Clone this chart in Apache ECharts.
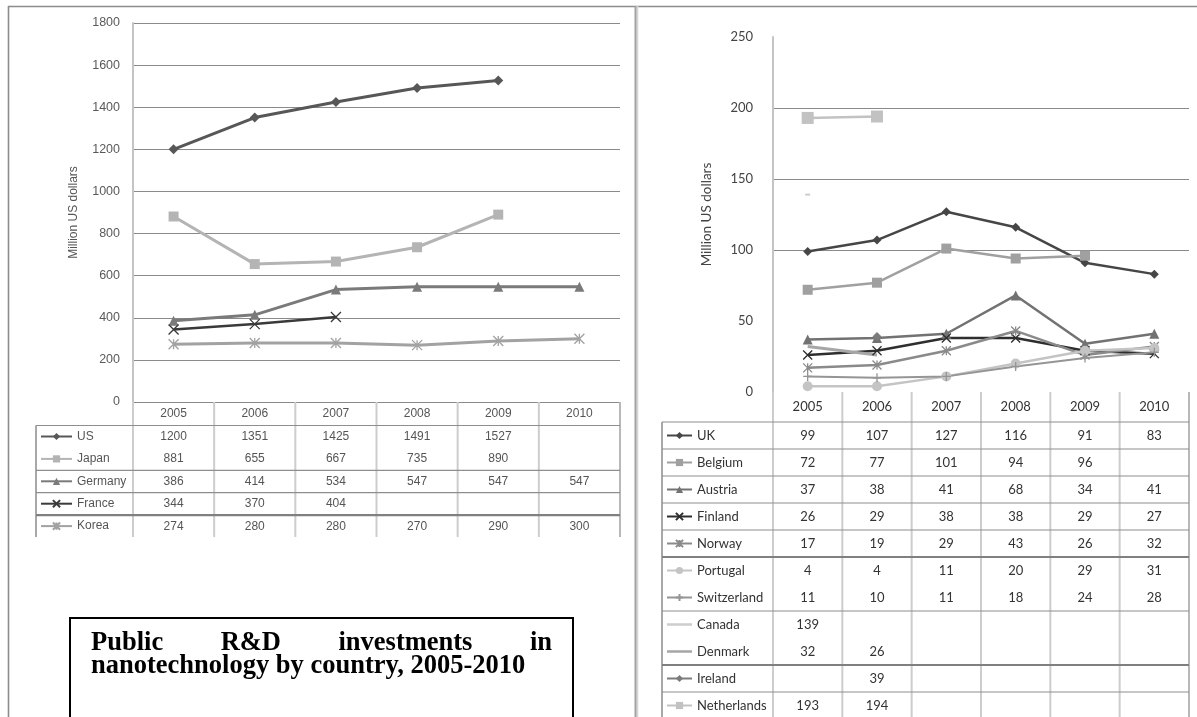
<!DOCTYPE html>
<html>
<head>
<meta charset="utf-8">
<title>Public R&amp;D investments in nanotechnology by country, 2005-2010</title>
<script src="https://cdn.jsdelivr.net/npm/echarts@6/dist/echarts.min.js"></script>
<style>
  html, body { margin: 0; padding: 0; background: #ffffff; }
  #c { width: 1197px; height: 717px; }
</style>
</head>
<body>
<div id="c"></div>
<script>
// ---- data -------------------------------------------------------------
const years = ['2005', '2006', '2007', '2008', '2009', '2010'];

// large spenders (left panel), million US dollars
const usVals      = [1200, 1351, 1425, 1491, 1527, null];
const japanVals   = [881, 655, 667, 735, 890, null];
const germanyVals = [386, 414, 534, 547, 547, 547];
const franceVals  = [344, 370, 404, null, null, null];
const koreaVals   = [274, 280, 280, 270, 290, 300];

// smaller spenders (right panel), million US dollars
const ukVals          = [99, 107, 127, 116, 91, 83];
const belgiumVals     = [72, 77, 101, 94, 96, null];
const austriaVals     = [37, 38, 41, 68, 34, 41];
const finlandVals     = [26, 29, 38, 38, 29, 27];
const norwayVals      = [17, 19, 29, 43, 26, 32];
const portugalVals    = [4, 4, 11, 20, 29, 31];
const switzerlandVals = [11, 10, 11, 18, 24, 28];
const canadaVals      = [139, null, null, null, null, null];
const denmarkVals     = [32, 26, null, null, null, null];
const irelandVals     = [null, 39, null, null, null, null];
const netherlandsVals = [193, 194, null, null, null, null];

const leftTicks  = { min: 0, max: 1800, interval: 200 };
const rightTicks = { min: 0, max: 250, interval: 50 };
const axisTitle = 'Million US dollars';
const titleWords = ['Public', 'R&D', 'investments', 'in'];
const titleLine2 = 'nanotechnology by country, 2005-2010';

// ---- marker shapes ------------------------------------------------------
const SYM_X    = 'path://M0,0L10,10M10,0L0,10';
const SYM_STAR = 'path://M5,0L5,10M0,0L10,10M10,0L0,10';
const SYM_PLUS = 'path://M5,0L5,10M0,5L10,5';
const SYM_BAR  = 'path://M0,0h30v3h-30z';
const strokeSyms = [SYM_X, SYM_STAR, SYM_PLUS];

function series(name, data, side, color, symbol, size, width) {
  const stroked = strokeSyms.indexOf(symbol) >= 0;
  return {
    name: name,
    type: 'line',
    xAxisIndex: side,
    yAxisIndex: side,
    data: data,
    symbol: symbol,
    symbolSize: size,
    showSymbol: symbol !== 'none',
    connectNulls: false,
    animation: false,
    lineStyle: { color: color, width: width || 2.5 },
    itemStyle: stroked
      ? { color: color, borderColor: color, borderWidth: 1.3 }
      : { color: color, borderColor: color, borderWidth: 0 },
    emphasis: { disabled: true }
  };
}

const leftSeries = [
  series('US',      usVals,      0, '#575757', 'diamond', 10, 3),
  series('Japan',   japanVals,   0, '#b4b4b4', 'rect',    10, 3),
  series('Germany', germanyVals, 0, '#7a7a7a', 'triangle', 10, 3),
  series('France',  franceVals,  0, '#3a3a3a', SYM_X,     10, 2.5),
  series('Korea',   koreaVals,   0, '#a2a2a2', SYM_STAR,  10, 3)
];
const rightSeries = [
  series('UK',          ukVals,          1, '#464646', 'diamond', 9, 2.5),
  series('Belgium',     belgiumVals,     1, '#a0a0a0', 'rect',    10, 2.5),
  series('Austria',     austriaVals,     1, '#727272', 'triangle', 10, 2.5),
  series('Finland',     finlandVals,     1, '#2e2e2e', SYM_X,     9, 2.5),
  series('Norway',      norwayVals,      1, '#8a8a8a', SYM_STAR,  9, 2.5),
  series('Portugal',    portugalVals,    1, '#c4c4c4', 'circle',  10, 2.5),
  series('Switzerland', switzerlandVals, 1, '#959595', SYM_PLUS,  9, 2),
  series('Canada',      canadaVals,      1, '#cdcdcd', 'rect',    [5, 2], 2.5),
  series('Denmark',     denmarkVals,     1, '#a6a6a6', 'none',    0, 3),
  series('Ireland',     irelandVals,     1, '#7c7c7c', 'diamond', 9, 2.5),
  series('Netherlands', netherlandsVals, 1, '#c2c2c2', 'rect',    12, 2.5)
];

const LEFT_FONT = '"Liberation Sans", Arial, sans-serif';
const RIGHT_FONT = 'Lato, "Open Sans", sans-serif';

// legend entries: plain line keys for the series drawn without markers
function legendData(list) {
  return list.map(s => (s.symbol === 'none' || Array.isArray(s.symbolSize))
    ? { name: s.name, icon: SYM_BAR }
    : s.name);
}

function legendBlock(names, left, top, itemWidth, gap, font, size, color) {
  return {
    orient: 'vertical', left: left, top: top, padding: 0,
    itemWidth: itemWidth, itemHeight: 9, itemGap: gap,
    selectedMode: false,
    data: names,
    textStyle: { fontFamily: font, fontSize: size, color: color, lineHeight: 14 }
  };
}

const rightLegendData = legendData(rightSeries);

const option = {
  backgroundColor: '#ffffff',
  animation: false,
  grid: [
    { left: 133, top: 23, width: 487, height: 379 },
    { left: 773, top: 37, width: 416, height: 355 }
  ],
  xAxis: [
    { type: 'category', gridIndex: 0, data: years, boundaryGap: true, show: false },
    { type: 'category', gridIndex: 1, data: years, boundaryGap: true, show: false }
  ],
  yAxis: [
    {
      type: 'value', gridIndex: 0,
      min: leftTicks.min, max: leftTicks.max, interval: leftTicks.interval,
      name: axisTitle, nameLocation: 'middle', nameGap: 53, nameRotate: 90,
      nameTextStyle: { fontFamily: LEFT_FONT, fontSize: 12, color: '#555' },
      axisLine: { show: true, lineStyle: { color: '#c4c4c4', width: 2 } },
      axisTick: { show: false },
      axisLabel: { fontFamily: LEFT_FONT, fontSize: 12.5, color: '#5a5a5a', margin: 13,
        formatter: v => String(v) },
      splitLine: { show: true, lineStyle: { color: '#8a8a8a', width: 1 } }
    },
    {
      type: 'value', gridIndex: 1,
      min: rightTicks.min, max: rightTicks.max, interval: rightTicks.interval,
      name: axisTitle, nameLocation: 'middle', nameGap: 59, nameRotate: 90,
      nameTextStyle: { fontFamily: RIGHT_FONT, fontSize: 13.5, color: '#444' },
      axisLine: { show: true, lineStyle: { color: '#c4c4c4', width: 2 } },
      axisTick: { show: false },
      axisLabel: { fontFamily: RIGHT_FONT, fontSize: 13, color: '#444', margin: 20,
        formatter: v => String(v) },
      splitLine: {
        show: true,
        lineStyle: { color: ['transparent', 'transparent', '#8a8a8a', '#8a8a8a', '#8a8a8a', 'transparent'], width: 1 }
      }
    }
  ],
  legend: [
    legendBlock(legendData(leftSeries), 40, 429.5, 31, 8.4, LEFT_FONT, 12, '#555'),
    legendBlock(rightLegendData.slice(0, 6), 666, 428.5, 25, 13, RIGHT_FONT, 13, '#333'),
    legendBlock(rightLegendData.slice(6), 666, 590.5, 25, 13, RIGHT_FONT, 13, '#333')
  ],
  series: leftSeries.concat(rightSeries)
};

const chart = echarts.init(document.getElementById('c'), null, { renderer: 'canvas' });
chart.setOption(option);

// ---- data tables, frames and the caption box ----------------------------
function colCenters(axisIndex) {
  return years.map(y => chart.convertToPixel({ xAxisIndex: axisIndex }, y));
}

function hline(x1, x2, y, color, w) {
  return { type: 'line', silent: true, z: 50,
    shape: { x1: x1, y1: y, x2: x2, y2: y }, style: { stroke: color, lineWidth: w } };
}
function vline(x, y1, y2, color, w) {
  return { type: 'line', silent: true, z: 50,
    shape: { x1: x, y1: y1, x2: x, y2: y2 }, style: { stroke: color, lineWidth: w } };
}
function label(text, x, y, font, size, color, weight, align) {
  return { type: 'text', silent: true, z: 60, x: x, y: y,
    style: { text: text, fontFamily: font, fontSize: size, fill: color,
      fontWeight: weight || 'normal', align: align || 'center', verticalAlign: 'middle' } };
}

function buildTable(axisIndex, seriesList, cfg) {
  const els = [];
  const cx = colCenters(axisIndex);
  const w = cx[1] - cx[0];
  const left = cx[0] - w / 2;
  const right = cx[cx.length - 1] + w / 2;
  // column rules
  for (let k = 0; k <= years.length; k++) {
    const x = left + k * w;
    const last = k === years.length;
    els.push(vline(x, cfg.top, cfg.bottom, last ? '#b8b8b8' : '#cdcdcd', 2));
  }
  // legend column outline and row rules
  els.push(vline(cfg.tableLeft, cfg.bodyTop, cfg.bottom, '#a8a8a8', 2));
  els.push(hline(cfg.tableLeft, right, cfg.bodyTop, '#8e8e8e', 1.2));
  cfg.rules.forEach(r => {
    const y = cfg.bodyTop + r.after * cfg.rowH;
    els.push(hline(cfg.tableLeft, right, y, r.thick ? '#808080' : '#8e8e8e', r.thick ? 2.2 : 1.2));
  });
  // year header
  years.forEach((y, i) => els.push(label(y, cx[i], cfg.headerY, cfg.font, cfg.size, cfg.color)));
  // values
  seriesList.forEach((s, r) => {
    const rowY = cfg.bodyTop + (r + 0.5) * cfg.rowH;
    s.data.forEach((v, i) => {
      if (v !== null) els.push(label(String(v), cx[i], rowY, cfg.font, cfg.size, cfg.color));
    });
  });
  return els;
}

const graphics = [];

// page frame and panel divider
graphics.push(hline(8, 1197, 6.5, '#8c8c8c', 1.6));
graphics.push(vline(8.5, 6, 717, '#8c8c8c', 1.6));
graphics.push({ type: 'rect', silent: true, z: 50, shape: { x: 634.5, y: 6, width: 2.2, height: 711 }, style: { fill: '#a2a2a2' } });
graphics.push({ type: 'rect', silent: true, z: 50, shape: { x: 636.7, y: 6, width: 1.6, height: 711 }, style: { fill: '#d6d6d6' } });

graphics.push(...buildTable(0, leftSeries, {
  top: 402, bodyTop: 425.5, bottom: 537, rowH: 22.4, tableLeft: 36, headerY: 414,
  font: LEFT_FONT, size: 12, color: '#555',
  rules: [{ after: 2 }, { after: 3 }, { after: 4, thick: true }]
}));
graphics.push(...buildTable(1, rightSeries, {
  top: 392, bodyTop: 422, bottom: 717, rowH: 27, tableLeft: 662, headerY: 407,
  font: RIGHT_FONT, size: 13, color: '#333',
  rules: [{ after: 1 }, { after: 2 }, { after: 3 }, { after: 4 }, { after: 5, thick: true },
          { after: 7 }, { after: 9, thick: true }, { after: 10 }]
}));

// caption box with a justified first line
const capFont = '"Liberation Serif", "Times New Roman", serif';
const capSize = 26.5;
graphics.push({ type: 'rect', silent: true, z: 50,
  shape: { x: 70, y: 618, width: 503, height: 130 },
  style: { fill: 'none', stroke: '#000', lineWidth: 2 } });
(function () {
  const ctx = document.createElement('canvas').getContext('2d');
  ctx.font = 'bold ' + capSize + 'px ' + capFont;
  const x0 = 91, x1 = 552;
  const widths = titleWords.map(t => ctx.measureText(t).width);
  const total = widths.reduce((a, b) => a + b, 0);
  const gap = (x1 - x0 - total) / (titleWords.length - 1);
  let x = x0;
  titleWords.forEach((t, i) => {
    graphics.push(label(t, x, 643, capFont, capSize, '#000', 'bold', 'left'));
    x += widths[i] + gap;
  });
})();
graphics.push(label(titleLine2, 91, 666, capFont, capSize, '#000', 'bold', 'left'));

chart.setOption({ graphic: { elements: graphics } });
</script>
</body>
</html>
